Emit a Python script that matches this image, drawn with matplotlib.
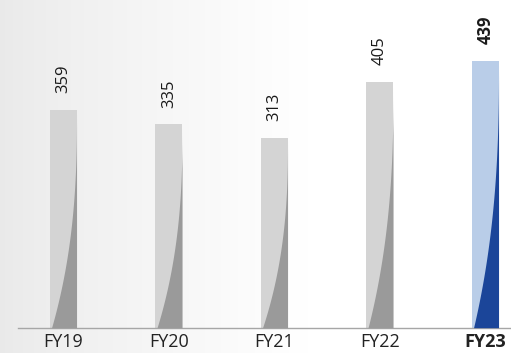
import numpy as np
import matplotlib
matplotlib.use("Agg")
import matplotlib.pyplot as plt

categories = ["FY19", "FY20", "FY21", "FY22", "FY23"]
values = [359, 335, 313, 405, 439]
highlight = [False, False, False, False, True]

light_colors = {False: "#d4d4d4", True: "#b9cde8"}
dark_colors = {False: "#9a9a9a", True: "#1b4599"}

plt.rcParams['font.family'] = ['Open Sans', 'DejaVu Sans']

W, H, DPI = 511, 353, 100
fig = plt.figure(figsize=(W / DPI, H / DPI), dpi=DPI)

# background gradient
bg = fig.add_axes([0, 0, 1, 1])
bg.set_axis_off()
xs = np.linspace(0, 1, 400)
ys = np.linspace(0, 1, 200)
g = 0.915 + 0.085 * np.clip(xs / 0.6, 0, 1) ** 0.8
img = np.tile(g, (len(ys), 1))
rgb = np.dstack([img, img, img])
bg.imshow(rgb, extent=[0, 1, 0, 1], aspect="auto", origin="lower")
bg.set_xlim(0, 1)
bg.set_ylim(0, 1)

ax = fig.add_axes([18 / W, 1 - 327.7 / H, 1 - 18 / W, 327.7 / H])
ax.set_facecolor("none")

x = np.arange(len(categories))
bw = 0.252
ax.bar(x, values, width=bw, color=[light_colors[h] for h in highlight], zorder=2)

k = 2.5
for xi, v, h in zip(x, values, highlight):
    hh = np.linspace(0, 1, 200)
    frac = 0.06 + 0.94 * (1 - (1 - hh) ** k)
    left = xi - bw / 2 + frac * bw
    right = np.full_like(hh, xi + bw / 2)
    ax.fill_betweenx(hh * v, left, right, color=dark_colors[h], lw=0, zorder=3)

for xi, v, h in zip(x, values, highlight):
    ax.annotate(str(v), (xi, v), xytext=(0, 12), textcoords="offset points",
                rotation=90, ha="center", va="bottom", fontsize=12,
                fontweight="bold" if h else "normal", color="#1a1a1a")

ax.set_xlim(-0.429, 4.244)
ax.set_ylim(0, 539.4)
ax.set_xticks(x)
ax.set_xticklabels(categories, fontsize=13, color="#222222")
for lab, h in zip(ax.get_xticklabels(), highlight):
    if h:
        lab.set_fontweight("bold")
ax.tick_params(axis="x", length=0, pad=4)
ax.set_yticks([])
for s in ["top", "right", "left"]:
    ax.spines[s].set_visible(False)
ax.spines["bottom"].set_color("#a6a6a6")
ax.spines["bottom"].set_linewidth(1.0)

fig.savefig("out.png", dpi=DPI)
